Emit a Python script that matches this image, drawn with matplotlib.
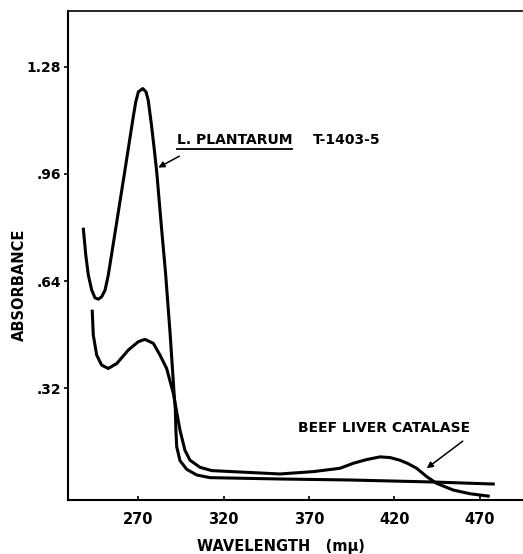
import numpy as np
import matplotlib
matplotlib.use("Agg")
import matplotlib.pyplot as plt
from matplotlib.lines import Line2D

# readings (wavelength in m-mu, absorbance)
plant_wl = [237.8, 239.2, 240.7, 242.7, 244.6, 246.6, 248.5, 250.5, 252.4, 255.5,
            258.6, 262.0, 264.9, 267.2, 268.5, 270.0, 272.6, 274.5, 275.8, 277.7,
            279.4, 280.8, 283.4, 286.0, 288.6, 290.9, 291.7, 292.0, 292.5, 294.4,
            298.3, 304.2, 312.0, 353.0, 394.0, 442.8, 478.0]
plant_abs = [0.795, 0.718, 0.658, 0.613, 0.590, 0.586, 0.593, 0.613, 0.658, 0.757,
             0.857, 0.966, 1.061, 1.136, 1.175, 1.205, 1.215, 1.205, 1.180, 1.106,
             1.031, 0.965, 0.810, 0.661, 0.485, 0.309, 0.255, 0.195, 0.145, 0.104,
             0.078, 0.061, 0.053, 0.049, 0.046, 0.040, 0.034]

cat_wl = [243.0, 243.6, 245.6, 248.5, 252.4, 257.4, 264.1, 270.0, 273.9, 278.8,
          282.7, 286.6, 290.5, 294.4, 297.3, 300.3, 306.1, 313.0, 353.0, 372.5,
          388.2, 396.0, 403.8, 411.6, 417.5, 423.3, 428.0, 433.1, 439.0, 444.8,
          454.5, 464.3, 475.0]
cat_abs = [0.550, 0.479, 0.419, 0.389, 0.379, 0.394, 0.434, 0.459, 0.466, 0.454,
           0.419, 0.379, 0.305, 0.195, 0.135, 0.105, 0.084, 0.074, 0.064, 0.071,
           0.081, 0.096, 0.107, 0.115, 0.113, 0.105, 0.095, 0.081, 0.056, 0.036,
           0.016, 0.005, -0.002]

x_ticks = [270, 320, 370, 420, 470]
y_ticks = [0.32, 0.64, 0.96, 1.28]
y_tick_labels = ['.32', '.64', '.96', '1.28']

plt.rcParams['font.family'] = ['DejaVu Sans']

fig = plt.figure(figsize=(5.23, 5.54), dpi=100)
ax = fig.add_axes([0.1294, 0.0975, 0.8686, 0.8835])

ax.plot(plant_wl, plant_abs, color='black', lw=2.2, solid_joinstyle='round')
ax.plot(cat_wl, cat_abs, color='black', lw=2.2, solid_joinstyle='round')

ax.set_xlim(228.6, 494.8)
ax.set_ylim(-0.0137, 1.448)

ax.set_xticks(x_ticks)
ax.set_xticklabels([str(t) for t in x_ticks])
ax.set_yticks(y_ticks)
ax.set_yticklabels(y_tick_labels)

ax.tick_params(axis='x', direction='in', length=3, width=1.2, pad=9,
               labelsize=10.5)
ax.tick_params(axis='y', direction='out', length=3, width=1.2, pad=1.5,
               labelsize=10)
for lab in ax.get_xticklabels() + ax.get_yticklabels():
    lab.set_fontweight('bold')

for side in ['left', 'bottom']:
    ax.spines[side].set_linewidth(1.5)
ax.spines['top'].set_linewidth(1.2)
ax.spines['right'].set_visible(False)

ax.set_xlabel('WAVELENGTH   (m\u03bc)', fontsize=10.5, fontweight='bold',
              va='center')
ax.xaxis.set_label_coords(0.469, -0.096)
ax.set_ylabel('ABSORBANCE', fontsize=10.5, fontweight='bold', va='center')
ax.yaxis.set_label_coords(-0.107, 0.439)

# labels with arrows
t1 = ax.text(292.5, 1.048, 'L. PLANTARUM', fontsize=10, fontweight='bold',
             va='baseline', ha='left')
ax.text(372.5, 1.048, 'T-1403-5', fontsize=10, fontweight='bold',
        va='baseline', ha='left')
ax.annotate('', xy=(281.7, 0.979), xytext=(294.0, 1.013),
            arrowprops=dict(arrowstyle='-|>', color='black', lw=1.1,
                            mutation_scale=9, shrinkA=0, shrinkB=0))

ax.text(363.7, 0.200, 'BEEF LIVER CATALASE', fontsize=10, fontweight='bold',
        va='center', ha='left')
ax.annotate('', xy=(439.0, 0.081), xytext=(460.1, 0.162),
            arrowprops=dict(arrowstyle='-|>', color='black', lw=1.1,
                            mutation_scale=9, shrinkA=0, shrinkB=0))

# underline the species name
fig.canvas.draw()
bb = t1.get_window_extent()
uy = bb.y0 - 2
fig.add_artist(Line2D([bb.x0, bb.x1], [uy, uy], color='black', lw=1.3,
                      transform=None))

fig.savefig('out.png', dpi=100)
